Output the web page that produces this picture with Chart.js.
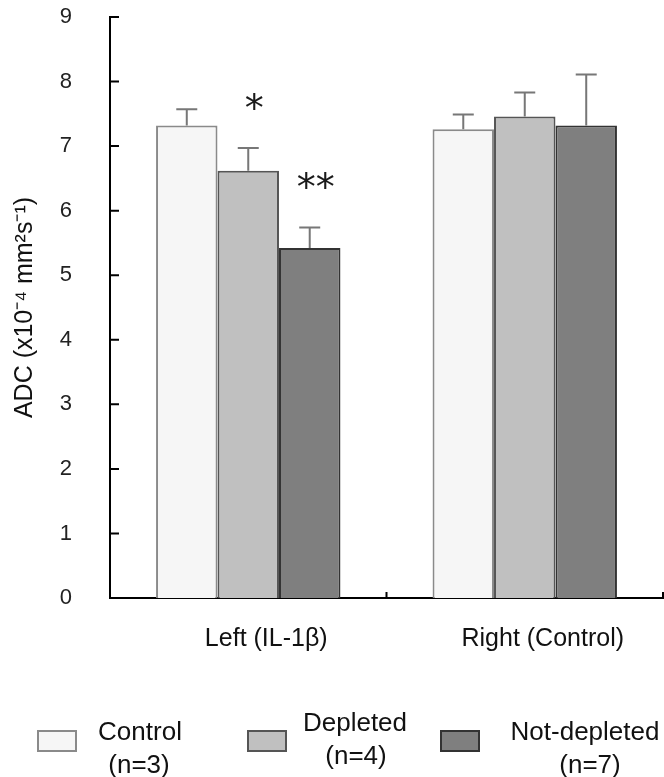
<!DOCTYPE html>
<html>
<head>
<meta charset="utf-8">
<script src="https://cdn.jsdelivr.net/npm/chart.js@4.4.1/dist/chart.umd.min.js"></script>
<style>
    html, body { margin: 0; padding: 0; background: #fff; }
    #wrap { width: 664px; height: 777px; position: relative; }
</style>
</head>
<body>
<div id="wrap"><canvas id="adcChart"></canvas></div>
<script>
const categories = ['Left (IL-1β)', 'Right (Control)'];
const seriesNames = ['Control', 'Depleted', 'Not-depleted'];
const seriesCounts = ['(n=3)', '(n=4)', '(n=7)'];

const controlValues = [7.32, 7.26];
const depletedValues = [6.62, 7.46];
const notDepletedValues = [5.42, 7.32];

const controlErrors = [0.25, 0.23];
const depletedErrors = [0.35, 0.37];
const notDepletedErrors = [0.32, 0.79];

// significance marks above the bars
const controlMarks = ['', ''];
const depletedMarks = ['*', ''];
const notDepletedMarks = ['**', ''];

const yTicks = [0, 1, 2, 3, 4, 5, 6, 7, 8, 9];

const FONT = "'Liberation Sans', Arial, sans-serif";

const fills = ['#f6f6f6', '#c0c0c0', '#7f7f7f'];
const borders = ['#8a8a8a', '#555555', '#333333'];

// error bars + asterisks
const errorBarPlugin = {
    id: 'errorBars',
    afterDatasetsDraw(chart) {
        const ctx = chart.ctx;
        const y = chart.scales.y;
        ctx.save();
        chart.data.datasets.forEach((ds, di) => {
            const meta = chart.getDatasetMeta(di);
            meta.data.forEach((bar, i) => {
                const top = y.getPixelForValue(ds.data[i] + ds.errors[i]);
                ctx.strokeStyle = '#777';
                ctx.lineWidth = 2;
                ctx.beginPath();
                ctx.moveTo(bar.x, bar.y);
                ctx.lineTo(bar.x, top);
                ctx.moveTo(bar.x - 10.5, top);
                ctx.lineTo(bar.x + 10.5, top);
                ctx.stroke();

                const mark = ds.marks[i];
                if (mark) {
                    ctx.font = "38px 'DejaVu Sans', sans-serif";
                    ctx.fillStyle = '#1a1a1a';
                    ctx.textAlign = 'center';
                    ctx.textBaseline = 'alphabetic';
                    const m = ctx.measureText(mark);
                    const h = m.actualBoundingBoxAscent + m.actualBoundingBoxDescent;
                    // centre the glyph ink about 47px above the cap
                    ctx.fillText(mark, bar.x + 6, top - 47 + m.actualBoundingBoxAscent - h / 2);
                }
            });
        });
        ctx.restore();
    }
};

// inward tick marks on both axes
const axisTickPlugin = {
    id: 'axisTicks',
    afterDraw(chart) {
        const ctx = chart.ctx;
        const x = chart.scales.x;
        const y = chart.scales.y;
        const area = chart.chartArea;
        ctx.save();
        ctx.strokeStyle = '#000';
        ctx.lineWidth = 2;
        ctx.beginPath();
        yTicks.forEach(v => {
            const py = y.getPixelForValue(v);
            ctx.moveTo(area.left, py);
            ctx.lineTo(area.left + 9, py);
        });
        for (let i = 0; i < categories.length; i++) {
            const px = x.getPixelForValue(i + 0.5);
            ctx.moveTo(px, area.bottom);
            ctx.lineTo(px, area.bottom - 6);
        }
        ctx.stroke();
        ctx.restore();
    }
};

// legend laid out like the figure (boxes, name, n)
const legendSpots = [
    { box: [38, 731], name: [140, 733], count: [139, 766] },
    { box: [248, 731], name: [355, 724], count: [356, 757] },
    { box: [441, 731], name: [585, 733], count: [590, 766] }
];

const legendPlugin = {
    id: 'figLegend',
    afterDraw(chart) {
        const ctx = chart.ctx;
        ctx.save();
        chart.data.datasets.forEach((ds, i) => {
            const s = legendSpots[i];
            ctx.fillStyle = ds.backgroundColor;
            ctx.fillRect(s.box[0], s.box[1], 38, 20);
            ctx.strokeStyle = ds.borderColor;
            ctx.lineWidth = 2;
            ctx.strokeRect(s.box[0], s.box[1], 38, 20);

            ctx.fillStyle = '#111';
            ctx.font = '26px ' + FONT;
            ctx.textAlign = 'center';
            ctx.textBaseline = 'middle';
            ctx.fillText(ds.label, s.name[0], s.name[1]);
            ctx.fillText(seriesCounts[i], s.count[0], s.count[1]);
        });
        ctx.restore();
    }
};

const ctx = document.getElementById('adcChart').getContext('2d');
new Chart(ctx, {
    type: 'bar',
    data: {
        labels: categories,
        datasets: [
            { label: seriesNames[0], data: controlValues, errors: controlErrors, marks: controlMarks,
              backgroundColor: fills[0], borderColor: borders[0], borderWidth: 2 },
            { label: seriesNames[1], data: depletedValues, errors: depletedErrors, marks: depletedMarks,
              backgroundColor: fills[1], borderColor: borders[1], borderWidth: 2 },
            { label: seriesNames[2], data: notDepletedValues, errors: notDepletedErrors, marks: notDepletedMarks,
              backgroundColor: fills[2], borderColor: borders[2], borderWidth: 2 }
        ]
    },
    options: {
        responsive: true,
        maintainAspectRatio: false,
        animation: false,
        categoryPercentage: 0.667,
        barPercentage: 1,
        layout: { padding: { top: 17, right: 1, left: 0, bottom: 0 } },
        scales: {
            x: {
                grid: { display: false },
                border: { display: true, color: '#000', width: 2 },
                ticks: {
                    color: '#111',
                    font: { family: FONT, size: 25 },
                    padding: 18,
                    labelOffset: 18
                },
                afterFit: scale => { scale.height = 179; }
            },
            y: {
                min: yTicks[0],
                max: yTicks[yTicks.length - 1],
                grid: { display: false },
                border: { display: true, color: '#000', width: 2 },
                ticks: {
                    stepSize: 1,
                    color: '#222',
                    font: { family: FONT, size: 22 },
                    padding: 30
                },
                title: {
                    display: true,
                    text: 'ADC (x10⁻⁴ mm²s⁻¹)',
                    color: '#111',
                    font: { family: FONT, size: 25 },
                    padding: { top: 10, bottom: 0 }
                },
                afterFit: scale => {
                    scale.width = 110;
                    scale.paddingTop = 0;
                    scale.paddingBottom = 0;
                }
            }
        },
        plugins: {
            legend: { display: false },
            tooltip: { enabled: false }
        }
    },
    plugins: [errorBarPlugin, axisTickPlugin, legendPlugin]
});
</script>
</body>
</html>
